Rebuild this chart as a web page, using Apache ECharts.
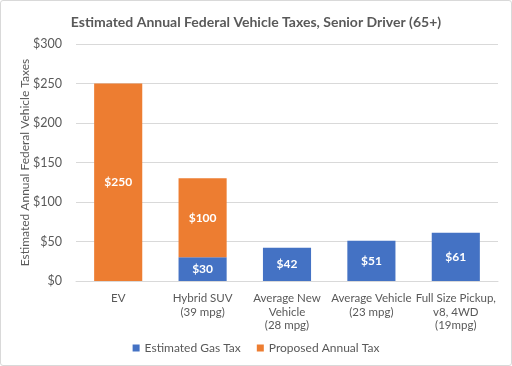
<!DOCTYPE html>
<html><head><meta charset="utf-8">
<script src="https://cdn.jsdelivr.net/npm/echarts@6/dist/echarts.min.js"></script>
<style>html,body{margin:0;padding:0;background:#fff}#c{width:510px;height:364px;border:1px solid #d9d9d9;border-radius:3px}</style>
</head><body><div id="c"></div>
<script>
const categories = ['EV', 'Hybrid SUV\n(39 mpg)', 'Average New\nVehicle\n(28 mpg)', 'Average Vehicle\n(23 mpg)', 'Full Size Pickup,\nv8, 4WD\n(19mpg)'];
const gasTax = [null, 30, 42, 51, 61];
const proposedTax = [250, 100, null, null, null];
const seriesNames = ['Estimated Gas Tax', 'Proposed Annual Tax'];
const titleText = 'Estimated Annual Federal Vehicle Taxes, Senior Driver (65+)';
const yAxisName = 'Estimated Annual Federal Vehicle Taxes';

const font = 'Lato';
const chart = echarts.init(document.getElementById('c'), null, {renderer: 'canvas'});
const lbl = {show: true, position: 'inside', color: '#fff', fontWeight: 'bold', fontSize: 12, fontFamily: font, formatter: p => '$' + p.value};
chart.setOption({
  animation: false,
  textStyle: {fontFamily: font},
  title: {text: titleText, left: 'center', top: 9, textStyle: {fontSize: 14, fontWeight: 'bold', color: '#595959', fontFamily: font}},
  legend: {bottom: 6, itemWidth: 7, itemHeight: 7, itemGap: 16, icon: 'rect', textStyle: {fontSize: 12, color: '#595959', fontFamily: font}, data: seriesNames},
  grid: {left: 75, right: 13, top: 43, bottom: 84},
  xAxis: {type: 'category', data: categories,
    axisLine: {lineStyle: {color: '#d9d9d9'}}, axisTick: {show: false},
    axisLabel: {color: '#595959', fontSize: 11.5, lineHeight: 13.5, interval: 0, margin: 11, fontFamily: font}},
  yAxis: {type: 'value', min: 0, max: 300, interval: 50,
    name: yAxisName, nameLocation: 'middle', nameGap: 45, nameRotate: 90, nameMoveOverlap: false,
    nameTextStyle: {color: '#595959', fontSize: 12, fontFamily: font},
    axisLabel: {color: '#595959', fontSize: 12.5, formatter: v => '$' + v, margin: 14, fontFamily: font},
    splitLine: {lineStyle: {color: '#d9d9d9'}}, axisLine: {show: false}, axisTick: {show: false}},
  series: [
    {name: seriesNames[0], type: 'bar', stack: 't', data: gasTax, barWidth: '57%', itemStyle: {color: '#4472C4'}, label: lbl},
    {name: seriesNames[1], type: 'bar', stack: 't', data: proposedTax, barWidth: '57%', itemStyle: {color: '#ED7D31'}, label: lbl}
  ]
});
</script></body></html>
